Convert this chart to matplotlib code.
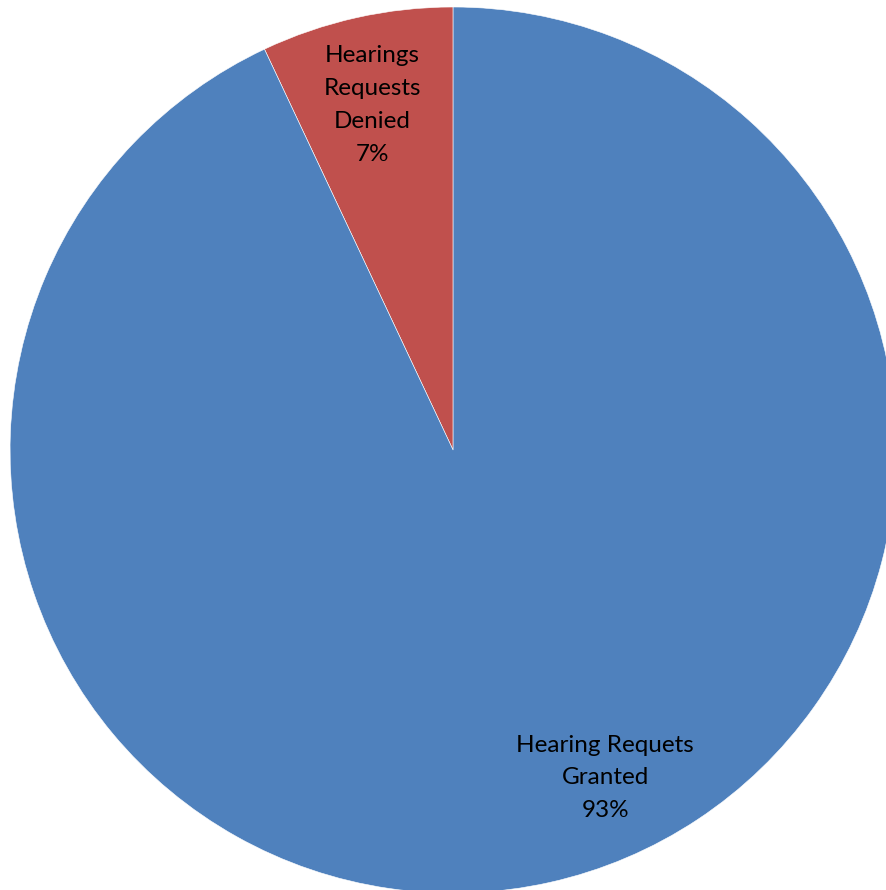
import numpy as np
import matplotlib.pyplot as plt

# Hearing request outcomes (percent)
labels = ["Hearings\nRequests\nDenied", "Hearing Requets\nGranted"]
values = [7, 93]
colors = ["#C0504D", "#4F81BD"]

# label placement (radius fraction, angle in degrees)
label_pos = [(0.80, 103.2), (0.816, -65.1)]

fig = plt.figure(figsize=(8.86, 8.90), dpi=100)
ax = fig.add_axes([0, 0, 1, 1])

wedges, _ = ax.pie(values, colors=colors, startangle=90, counterclock=True,
                   radius=1.0, wedgeprops=dict(edgecolor="white", linewidth=0.4))

for lab, val, (r, ang) in zip(labels, values, label_pos):
    a = np.deg2rad(ang)
    ax.text(r * np.cos(a), r * np.sin(a), f"{lab}\n{val}%", ha="center", va="center",
            fontsize=17.5, family="Lato", linespacing=1.70, color="black")

ax.set_xlim(-1.0226, 0.977)
ax.set_ylim(-0.993, 1.0158)
ax.set_aspect("equal")
ax.axis("off")

plt.savefig("out.png", dpi=100)
